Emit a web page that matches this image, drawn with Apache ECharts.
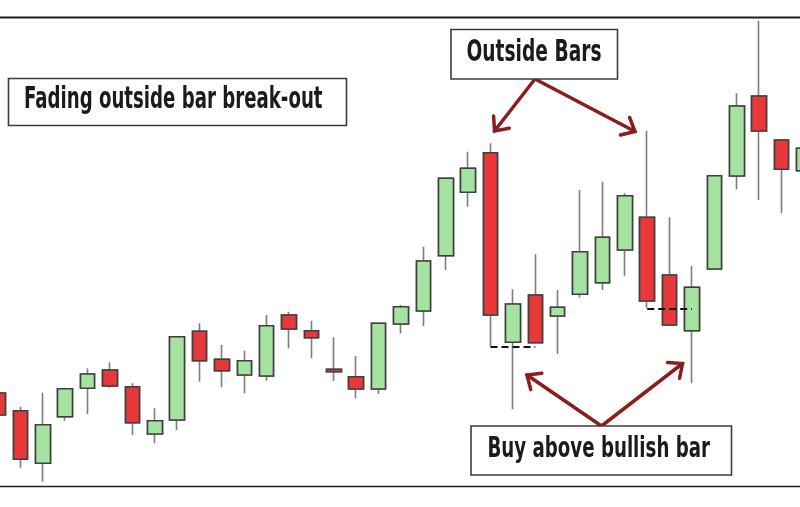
<!DOCTYPE html>
<html><head><meta charset="utf-8">
<script src="https://cdn.jsdelivr.net/npm/echarts@6/dist/echarts.min.js"></script>
<style>html,body{margin:0;padding:0;background:#fff}#c{width:800px;height:507px}</style>
</head><body><div id="c"></div>
<script>
const categories = ['B0','B1','B2','B3','B4','B5','B6','B7','B8','B9','B10','B11','B12','B13','B14','B15','B16','B17','B18','B19','B20','B21','B22','B23','B24','B25','B26','B27','B28','B29','B30','B31','B32','B33','B34','B35','B36'];
const opens  = [94, 76.3, 23.7, 70.3, 98.7, 117, 100.3, 53, 67, 155.7, 127.7, 112, 111, 172, 156.3, 117.7, 110.3, 98, 163, 176, 231.3, 294.7, 334.3, 144.7, 192, 171, 192.7, 204.3, 237, 269.7, 212, 156.3, 218, 311, 391, 347, 316.3];
const closes = [72, 27.7, 62.3, 98.3, 113, 101, 64.3, 66.3, 150.3, 126.3, 116.3, 126.3, 161.3, 158, 149.3, 115.3, 98, 163.7, 180.3, 226, 308.7, 318.7, 172, 183, 144.3, 179.7, 235.3, 249.7, 291.3, 186, 162, 199.7, 311.3, 381, 356, 317.7, 338.7];
const lows   = [67, 19.3, 5.3, 66.3, 73, 99.3, 52, 43.7, 57, 105.3, 99.7, 93.7, 106.3, 138.7, 128.7, 106, 88.7, 93, 153.7, 161, 217, 280.3, 140.3, 77.7, 144.3, 133, 189.3, 197, 211.3, 178.7, 162, 103.7, 217.5, 297.7, 287, 273.7, 312];
const highs  = [99, 80.3, 94.3, 99.3, 118.7, 124.7, 103.7, 78.7, 151, 163.7, 142, 136.3, 172, 175.3, 166.3, 149.7, 131, 164, 182, 240.3, 309.3, 335.3, 343.7, 197.7, 232.7, 197, 297, 305.3, 293.7, 356.3, 269.7, 221, 312, 393.7, 466.3, 348, 342];
// dashed "buy above" levels: [from bar, to bar, level taken from bar low]
const dashFrom = ['B22', 'B29'];
const dashTo   = ['B24', 'B31'];
const dashLevelBars = [22, 29];
const labels = ['Fading outside bar break-out', 'Outside Bars', 'Buy above bullish bar'];

const full = opens.map((o, i) => [o, closes[i], lows[i], highs[i]]);
const bodies = opens.map((o, i) => [o, closes[i], Math.min(o, closes[i]), Math.max(o, closes[i])]);

const chart = echarts.init(document.getElementById('c'), null, {renderer: 'canvas'});

const FONT_FAMILY = '"Liberation Sans Narrow","DejaVu Sans Condensed",sans-serif';
const mctx = document.createElement('canvas').getContext('2d');
function textEl(text, left, right, midY, size) {
  const font = 'bold ' + size + 'px ' + FONT_FAMILY;
  mctx.font = font;
  const w = mctx.measureText(text).width;
  return {type: 'text', x: left, y: midY, scaleX: (right - left) / w, z: 20,
    style: {text: text, font: font, fill: '#1b1b1b', align: 'left', verticalAlign: 'middle', textAlign: 'left', textVerticalAlign: 'middle'}};
}
function boxEl(x1, y1, x2, y2) {
  return {type: 'rect', shape: {x: x1, y: y1, width: x2 - x1, height: y2 - y1}, z: 15,
    style: {fill: '#fff', stroke: '#3c3c3c', lineWidth: 1.6}};
}
const AC = '#8a1d1d';
function arrowEls(x1, y1, x2, y2) {
  const ang = Math.atan2(y1 - y2, x1 - x2);
  const L = 15, spread = 0.72;
  const w1 = [x2 + L * Math.cos(ang + spread), y2 + L * Math.sin(ang + spread)];
  const w2 = [x2 + L * Math.cos(ang - spread), y2 + L * Math.sin(ang - spread)];
  return [
    {type: 'line', shape: {x1: x1, y1: y1, x2: x2, y2: y2}, z: 14, style: {stroke: AC, lineWidth: 3.5, lineCap: 'round'}},
    {type: 'polyline', shape: {points: [w1, [x2, y2], w2]}, z: 14, style: {stroke: AC, lineWidth: 3.5, fill: null, lineJoin: 'miter', lineCap: 'round'}}
  ];
}

const graphics = [
  {type: 'line', shape: {x1: 0, y1: 17.5, x2: 800, y2: 17.5}, z: 30, style: {stroke: '#1e1e1e', lineWidth: 2}},
  {type: 'line', shape: {x1: 0, y1: 486.5, x2: 800, y2: 486.5}, z: 30, style: {stroke: '#1e1e1e', lineWidth: 1.5}},
  ...arrowEls(535, 79, 494.5, 131),
  ...arrowEls(535, 79, 635, 131.5),
  ...arrowEls(601.5, 426, 527, 375),
  ...arrowEls(601.5, 426, 682.5, 363.5),
  boxEl(8.5, 78.5, 346.5, 125.5),
  textEl(labels[0], 24, 322.5, 100, 30),
  boxEl(451, 29.5, 617.5, 79),
  textEl(labels[1], 466.5, 601.5, 53, 31),
  boxEl(471, 426, 731.5, 475),
  textEl(labels[2], 487.5, 710, 449.5, 29)
];

chart.setOption({
  animation: false,
  backgroundColor: '#ffffff',
  grid: {left: -13.1, right: -15.1, top: 17, bottom: 20, containLabel: false, outerBoundsMode: 'none'},
  xAxis: {type: 'category', data: categories, boundaryGap: true, show: false},
  yAxis: {type: 'value', min: 0, max: 470, show: false, splitLine: {show: false}},
  series: [
    {
      type: 'candlestick', name: 'wicks', data: full, barWidth: 15,
      itemStyle: {color: '#a5e3a0', color0: '#e8383a', borderColor: '#7d7d7d', borderColor0: '#7d7d7d', borderWidth: 1.6},
      markLine: {
        silent: true, symbol: 'none', label: {show: false},
        lineStyle: {type: [7, 4], color: '#111', width: 2},
        data: dashFrom.map((f, k) => [{coord: [f, lows[dashLevelBars[k]]]}, {coord: [dashTo[k], lows[dashLevelBars[k]]]}])
      }
    },
    {
      type: 'candlestick', name: 'bodies', data: bodies, barWidth: 15,
      itemStyle: {color: '#a5e3a0', color0: '#e8383a', borderColor: '#3f3f3f', borderColor0: '#3f3f3f', borderWidth: 1.6}
    }
  ],
  graphic: graphics
});
</script></body></html>
